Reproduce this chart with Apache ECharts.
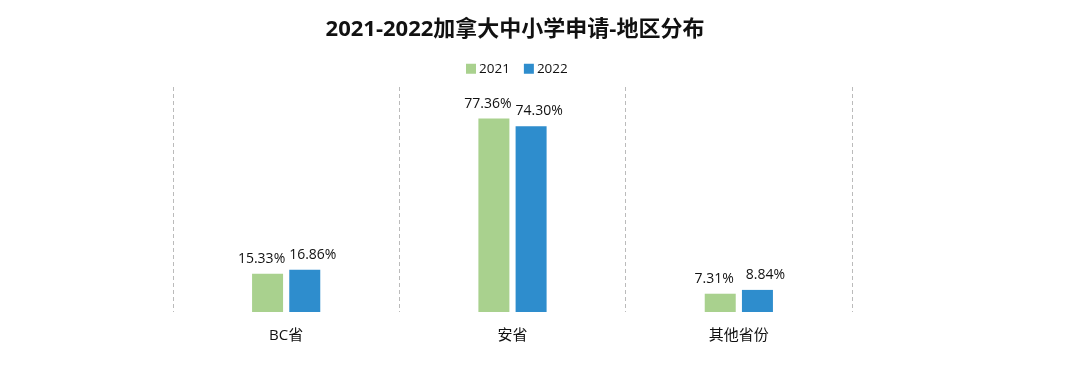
<!DOCTYPE html>
<html>
<head>
<meta charset="utf-8">
<script src="https://cdn.jsdelivr.net/npm/echarts@6/dist/echarts.min.js"></script>
<style>html,body{margin:0;padding:0;background:#fff;}#c{width:1070px;height:383px;}</style>
</head>
<body>
<div id="c"></div>
<script>
var categories = ['BC省', '安省', '其他省份'];
var seriesNames = ['2021', '2022'];
var values2021 = [15.33, 77.36, 7.31];
var values2022 = [16.86, 74.30, 8.84];

var font = '"Open Sans", "Noto Sans CJK SC", sans-serif';
var chart = echarts.init(document.getElementById('c'));
function labelFmt(p) { return p.value.toFixed(2) + '%'; }
chart.setOption({
  animation: false,
  title: {
    text: '2021-2022加拿大中小学申请-地区分布',
    left: 510, top: 14, textAlign: 'center',
    textStyle: { fontFamily: font, fontSize: 22, fontWeight: 'bold', color: '#111' }
  },
  legend: {
    data: seriesNames,
    top: 57, left: 461,
    itemWidth: 10, itemHeight: 10, itemGap: 14,
    icon: 'rect',
    textStyle: { fontFamily: font, fontSize: 13.5, color: '#111', padding: [0, 0, 0, -2] }
  },
  grid: { left: 173, right: 218, top: 87, bottom: 71 },
  xAxis: {
    type: 'category',
    data: categories,
    axisLine: { show: false },
    axisTick: { show: false },
    axisLabel: { fontFamily: font, fontSize: 15, color: '#111', margin: 16 },
    splitLine: { show: true, lineStyle: { type: [4, 3], color: '#bbb', width: 1 } }
  },
  yAxis: { type: 'value', min: 0, max: 90, show: false, splitLine: { show: false } },
  series: [
    { name: '2021', type: 'bar', data: values2021, barWidth: 31, barGap: '20%',
      itemStyle: { color: '#A9D18E' },
      label: { show: true, position: 'top', distance: 8, offset: [-6, 0], formatter: labelFmt,
        fontFamily: font, fontSize: 14, color: '#111' } },
    { name: '2022', type: 'bar', data: values2022, barWidth: 31,
      itemStyle: { color: '#2E8DCD' },
      label: { show: true, position: 'top', distance: 8, offset: [8, 0], formatter: labelFmt,
        fontFamily: font, fontSize: 14, color: '#111' } }
  ]
});
</script>
</body>
</html>
